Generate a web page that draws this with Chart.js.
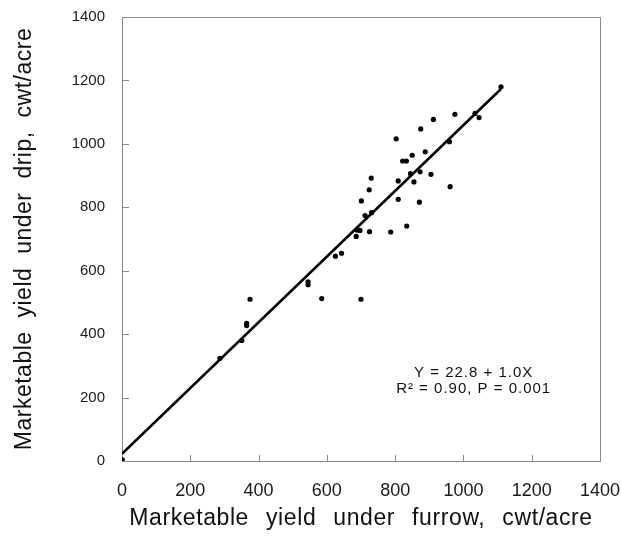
<!DOCTYPE html>
<html>
<head>
<meta charset="utf-8">
<script src="https://cdn.jsdelivr.net/npm/chart.js@4.4.1/dist/chart.umd.min.js"></script>
<style>
  html, body { margin: 0; padding: 0; background: #fff; }
  #wrap { width: 621px; height: 541px; }
</style>
</head>
<body>
<div id="wrap"><canvas id="yieldChart" width="621" height="541"></canvas></div>
<script>
// yield under furrow (x) vs drip (y), cwt/acre
var furrowYield = [1, 287, 351, 365, 365, 375, 545, 545, 585, 625, 643, 686, 688, 697, 700,
                   701, 712, 724, 725, 730, 731, 787, 803, 809, 809, 822, 833, 834, 845, 850,
                   855, 871, 873, 875, 888, 905, 912, 959, 961, 975, 1034, 1046, 1110];
var dripYield   = [4, 324, 380, 434, 427, 510, 565, 556, 512, 646, 655, 708, 728, 727, 510,
                   820, 774, 855, 723, 892, 783, 722, 1016, 883, 825, 946, 946, 741, 906, 964,
                   880, 816, 912, 1047, 975, 904, 1077, 1007, 865, 1093, 1096, 1083, 1180];

// fitted line end points
var fitX = [0, 1110];
var fitY = [23, 1173];

var tickValues = [0, 200, 400, 600, 800, 1000, 1200, 1400];

var xTitle = "Marketable yield under furrow, cwt/acre";
var yTitle = "Marketable yield under drip, cwt/acre";
var fitText1 = "Y = 22.8 + 1.0X";
var fitText2 = "R\u00B2 = 0.90, P = 0.001";

var FONT = '"Liberation Sans", Arial, sans-serif';

var pts = furrowYield.map(function(v, i) { return {x: v, y: dripYield[i]}; });
var linePts = fitX.map(function(v, i) { return {x: v, y: fitY[i]}; });

// box + inward ticks + titles + regression text
var framePlugin = {
    id: 'frame',
    afterDraw: function(chart) {
        var ctx = chart.ctx;
        var a = chart.chartArea;
        var xs = chart.scales.x, ys = chart.scales.y;
        ctx.save();
        ctx.strokeStyle = '#8a8a8a';
        ctx.lineWidth = 1;
        ctx.beginPath();
        ctx.moveTo(a.left, a.top + 0.5);
        ctx.lineTo(a.right + 0.5, a.top + 0.5);
        ctx.lineTo(a.right + 0.5, a.bottom);
        tickValues.forEach(function(v) {
            if (v === 0 || v === 1400) return;
            var px = Math.round(xs.getPixelForValue(v)) + 0.5;
            ctx.moveTo(px, a.bottom);
            ctx.lineTo(px, a.bottom - 6);
            var py = Math.round(ys.getPixelForValue(v)) + 0.5;
            ctx.moveTo(a.left, py);
            ctx.lineTo(a.left + 7, py);
        });
        ctx.stroke();

        ctx.fillStyle = '#111';
        ctx.textAlign = 'center';
        ctx.textBaseline = 'middle';

        // fit text
        ctx.font = '15px ' + FONT;
        ctx.letterSpacing = '1px';
        ctx.fillText(fitText1, xs.getPixelForValue(1030), ys.getPixelForValue(277));
        ctx.fillText(fitText2, xs.getPixelForValue(1030), ys.getPixelForValue(226));

        // axis titles
        ctx.font = '23px ' + FONT;
        ctx.letterSpacing = '0.6px';
        ctx.wordSpacing = '10px';
        ctx.fillText(xTitle, (a.left + a.right) / 2, 519);
        ctx.letterSpacing = '0.5px';
        ctx.wordSpacing = '7px';
        ctx.translate(25, (a.top + a.bottom) / 2);
        ctx.rotate(-Math.PI / 2);
        ctx.fillText(yTitle, 0, 0);
        ctx.restore();
    }
};

new Chart(document.getElementById('yieldChart'), {
    type: 'scatter',
    data: {
        datasets: [
            {
                data: pts,
                backgroundColor: '#000',
                borderColor: '#000',
                pointRadius: 2.6,
                pointBorderWidth: 0
            },
            {
                type: 'line',
                data: linePts,
                borderColor: '#000',
                borderWidth: 2.6,
                pointRadius: 0,
                fill: false
            }
        ]
    },
    options: {
        responsive: false,
        animation: false,
        layout: { padding: { top: 17, right: 21, left: 0, bottom: 0 } },
        plugins: { legend: { display: false }, tooltip: { enabled: false } },
        scales: {
            x: {
                type: 'linear',
                min: 0, max: 1400,
                afterBuildTicks: function(s) { s.ticks = tickValues.map(function(v) { return {value: v}; }); },
                afterFit: function(s) { s.height = 80; s.paddingLeft = 0; s.paddingRight = 0; },
                grid: { display: false, drawTicks: false },
                border: { display: true, color: '#8a8a8a', width: 1 },
                ticks: {
                    padding: 19,
                    color: '#1a1a1a',
                    font: { family: FONT, size: 18 },
                    maxRotation: 0,
                    callback: function(v) { return String(v); }
                }
            },
            y: {
                type: 'linear',
                min: 0, max: 1400,
                afterBuildTicks: function(s) { s.ticks = tickValues.map(function(v) { return {value: v}; }); },
                afterFit: function(s) { s.width = 122; s.paddingTop = 0; s.paddingBottom = 0; },
                grid: { display: false, drawTicks: false },
                border: { display: true, color: '#8a8a8a', width: 1 },
                ticks: {
                    padding: 17,
                    color: '#1a1a1a',
                    font: { family: FONT, size: 15 },
                    callback: function(v) { return String(v); }
                }
            }
        }
    },
    plugins: [framePlugin]
});
</script>
</body>
</html>
